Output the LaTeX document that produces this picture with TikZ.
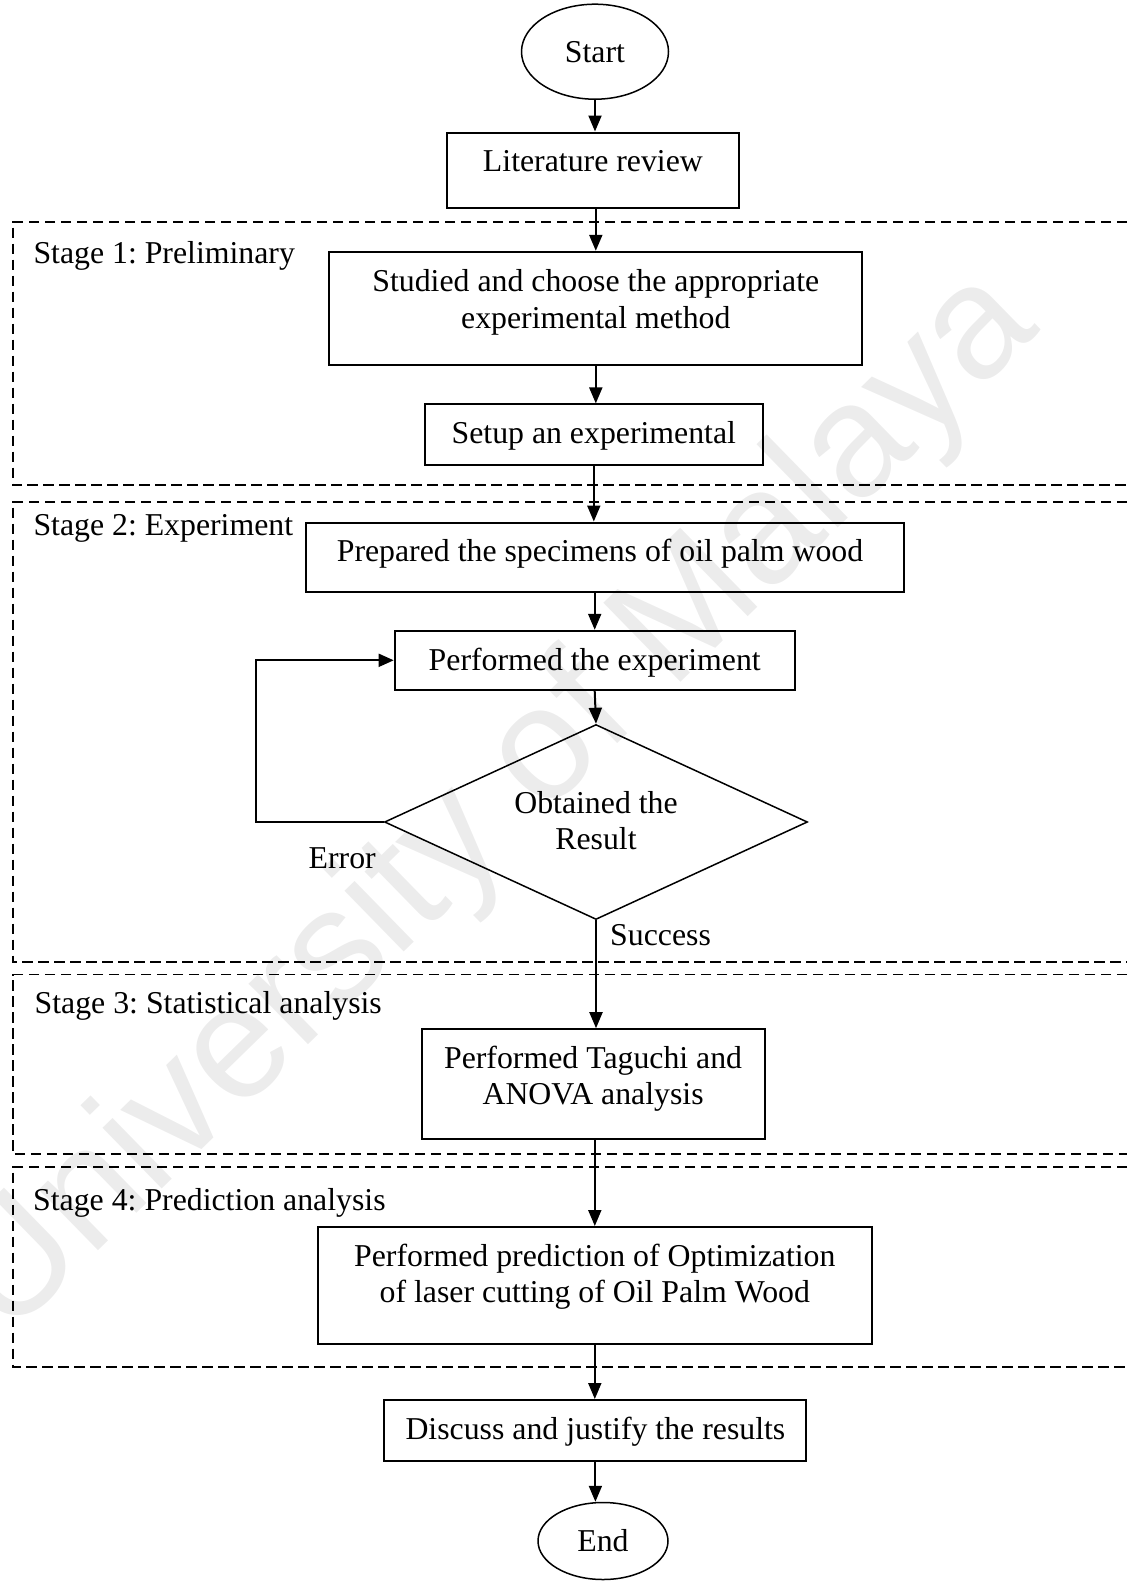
\documentclass[tikz,border=0pt]{standalone}
\usepackage{fontspec}
\setmainfont{Liberation Serif}
\newfontfamily\wmfont{Liberation Sans}
\usetikzlibrary{shapes.geometric,arrows.meta}
\definecolor{wmgray}{RGB}{236,236,236}
\frenchspacing

\begin{document}
\begin{tikzpicture}[x=1pt,y=-1pt,
  every node/.style={font=\fontsize{31.8}{36.5}\selectfont, inner sep=0pt},
  box/.style={draw, line width=2pt, rectangle, inner sep=0pt},
  txt/.style={anchor=base, align=center},
  lbl/.style={anchor=base west},
  term/.style={draw, ellipse, line width=1.5pt, inner sep=0pt},
  decide/.style={draw, diamond, line width=1.5pt, inner sep=0pt, aspect=2},
  arr/.style={line width=2pt, -{Triangle[length=16pt,width=13pt]}},
  looparr/.style={line width=1.8pt, -{Triangle[length=15pt,width=13pt]}},
  stageframe/.style={line width=1.8pt, dash pattern=on 10.5pt off 5.5pt},
  wm/.style={text=wmgray, font=\wmfont\fontsize{160.6}{160}\selectfont}
]
\useasboundingbox (0,0) rectangle (1127,1582);

% watermark behind the chart
\node[wm, rotate=44.3, anchor=base west] (wmark) at (7,1339.5) {University of Malaya};

% stage frames (open on the right)
\draw[stageframe] (1127,222) -| (12.7,485) -- (1127,485);
\draw[stageframe] (1127,502) -| (12.7,962) -- (1127,962);
\draw[stageframe] (1127,974.5) -| (12.7,1154) -- (1127,1154);
\draw[stageframe] (1127,1167) -| (12.7,1367) -- (1127,1367);

\node[lbl] (s1) at (33.3,263.3) {Stage 1: Preliminary};
\node[lbl] (s2) at (33.3,535) {Stage 2: Experiment};
\node[lbl] (s3) at (34.5,1013.3) {Stage 3: Statistical analysis};
\node[lbl] (s4) at (33,1210) {Stage 4: Prediction analysis};

% terminals
\node[term, minimum width=147, minimum height=95] (start) at (595,51.7) {Start};
\node[term, minimum width=130, minimum height=77] (end) at (603,1541) {End};

% process boxes
\node[box, minimum width=292, minimum height=75] (lit) at (592.9,170) {};
\node[txt] (lit-t) at (592.9,171.7) {Literature review};

\node[box, minimum width=533, minimum height=113] (stud) at (595.8,308.3) {};
\node[txt] (stud-t) at (595.8,291.7) {\begin{tabular}[t]{@{}c@{}}Studied and choose the appropriate\\experimental method\end{tabular}};

\node[box, minimum width=338, minimum height=61] (setup) at (593.8,434.9) {};
\node[txt] (setup-t) at (593.8,443.6) {Setup an experimental};

\node[box, minimum width=598, minimum height=69] (prep) at (604.9,557) {};
\node[txt] (prep-t) at (600,561.7) {Prepared the specimens of oil palm wood};

\node[box, minimum width=400, minimum height=59] (perf) at (594.7,660.3) {};
\node[txt] (perf-t) at (594.7,670) {Performed the experiment};

\node[decide, minimum width=423, minimum height=195] (dec) at (596,822) {};
\node[txt] (dec-t) at (596,813) {\begin{tabular}[t]{@{}c@{}}Obtained the\\Result\end{tabular}};

\node[box, minimum width=343, minimum height=110] (tag) at (593.1,1084.2) {};
\node[txt] (tag-t) at (593.1,1068) {\begin{tabular}[t]{@{}c@{}}Performed Taguchi and\\ANOVA analysis\end{tabular}};

\node[box, minimum width=554, minimum height=117] (pred) at (594.8,1285.5) {};
\node[txt] (pred-t) at (594.8,1266) {\begin{tabular}[t]{@{}c@{}}Performed prediction of Optimization\\of laser cutting of Oil Palm Wood\end{tabular}};

\node[box, minimum width=422, minimum height=61] (disc) at (595.4,1430.5) {};
\node[txt] (disc-t) at (595.4,1439.3) {Discuss and justify the results};

\node[lbl] (err) at (308.5,868) {Error};
\node[lbl] (succ) at (610,945) {Success};

% connectors
\draw[arr] (start.south) -- (start.south |- lit.north);
\draw[arr] (lit.south -| stud.north) -- (stud.north);
\draw[arr] (stud.south) -- (stud.south |- setup.north);
\draw[arr] (setup.south) -- (setup.south |- prep.north);
\draw[arr] (perf.north |- prep.south) -- (perf.north);
\draw[arr] (perf.south) -- (dec.north);
\draw[arr] (dec.south) -- (dec.south |- tag.north);
\draw[arr] (tag.south -| pred.north) -- (pred.north);
\draw[arr] (pred.south) -- (pred.south |- disc.north);
\draw[arr] (disc.south) -- (disc.south |- end.north);

\coordinate (loopc) at (256,822);
\draw[looparr] (dec.west) -- (loopc) |- (perf.west);
\end{tikzpicture}
\end{document}
